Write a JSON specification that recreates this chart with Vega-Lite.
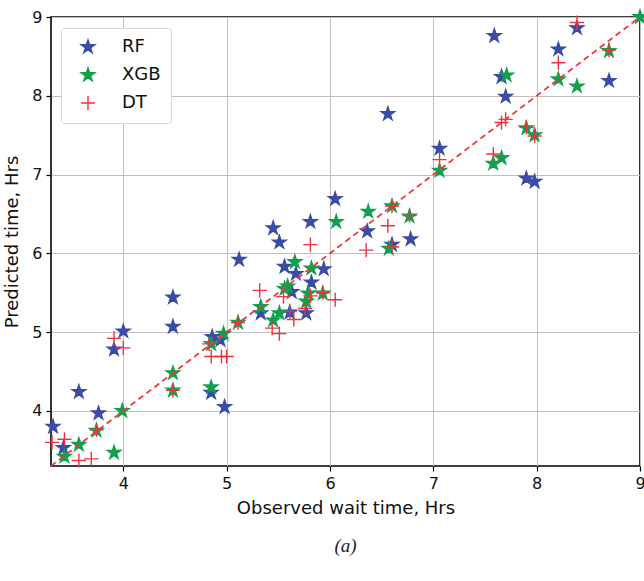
{
  "$schema": "https://vega.github.io/schema/vega-lite/v6.json",
  "width": 589,
  "height": 449,
  "autosize": "none",
  "padding": {"left": 51, "top": 17, "right": 4, "bottom": 115},
  "background": "white",
  "config": {
    "view": {"stroke": "black", "strokeWidth": 1.6},
    "font": "DejaVu Sans",
    "axis": {
      "domain": false,
      "grid": true,
      "gridColor": "#c4bebe",
      "gridWidth": 1,
      "tickColor": "black",
      "tickSize": 5,
      "tickWidth": 1.2,
      "labelFont": "DejaVu Sans",
      "labelFontSize": 16,
      "labelColor": "#111",
      "labelPadding": 4,
      "labelFlush": false,
      "format": "d",
      "titleFont": "DejaVu Sans",
      "titleFontSize": 18,
      "titleFontWeight": "normal",
      "titleColor": "#111"
    }
  },
  "title": {
    "text": "(a)",
    "orient": "bottom",
    "anchor": "middle",
    "font": "Liberation Serif",
    "fontStyle": "italic",
    "fontWeight": "normal",
    "fontSize": 19,
    "color": "#222",
    "offset": 20
  },
  "datasets": {
    "pts": [
      {"model": "RF", "observed": 3.32, "predicted": 3.80},
      {"model": "RF", "observed": 3.42, "predicted": 3.53},
      {"model": "RF", "observed": 3.57, "predicted": 4.24},
      {"model": "RF", "observed": 3.76, "predicted": 3.97},
      {"model": "RF", "observed": 3.91, "predicted": 4.78},
      {"model": "RF", "observed": 4.00, "predicted": 5.01},
      {"model": "RF", "observed": 4.48, "predicted": 5.44},
      {"model": "RF", "observed": 4.48, "predicted": 5.07},
      {"model": "RF", "observed": 4.85, "predicted": 4.23},
      {"model": "RF", "observed": 4.86, "predicted": 4.94},
      {"model": "RF", "observed": 4.94, "predicted": 4.90},
      {"model": "RF", "observed": 4.98, "predicted": 4.05},
      {"model": "RF", "observed": 5.12, "predicted": 5.92},
      {"model": "RF", "observed": 5.33, "predicted": 5.24},
      {"model": "RF", "observed": 5.45, "predicted": 6.32},
      {"model": "RF", "observed": 5.51, "predicted": 6.14},
      {"model": "RF", "observed": 5.56, "predicted": 5.83},
      {"model": "RF", "observed": 5.61, "predicted": 5.25},
      {"model": "RF", "observed": 5.63, "predicted": 5.51},
      {"model": "RF", "observed": 5.67, "predicted": 5.74},
      {"model": "RF", "observed": 5.77, "predicted": 5.24},
      {"model": "RF", "observed": 5.81, "predicted": 6.40},
      {"model": "RF", "observed": 5.82, "predicted": 5.63},
      {"model": "RF", "observed": 5.94, "predicted": 5.80},
      {"model": "RF", "observed": 6.05, "predicted": 6.69},
      {"model": "RF", "observed": 6.36, "predicted": 6.28},
      {"model": "RF", "observed": 6.56, "predicted": 7.77},
      {"model": "RF", "observed": 6.60, "predicted": 6.11},
      {"model": "RF", "observed": 6.78, "predicted": 6.18},
      {"model": "RF", "observed": 7.06, "predicted": 7.33},
      {"model": "RF", "observed": 7.59, "predicted": 8.76},
      {"model": "RF", "observed": 7.66, "predicted": 8.24},
      {"model": "RF", "observed": 7.70, "predicted": 7.99},
      {"model": "RF", "observed": 7.90, "predicted": 6.95},
      {"model": "RF", "observed": 7.98, "predicted": 6.91},
      {"model": "RF", "observed": 8.21, "predicted": 8.59},
      {"model": "RF", "observed": 8.39, "predicted": 8.86},
      {"model": "RF", "observed": 8.70, "predicted": 8.19},
      {"model": "XGB", "observed": 3.43, "predicted": 3.42},
      {"model": "XGB", "observed": 3.57, "predicted": 3.57},
      {"model": "XGB", "observed": 3.74, "predicted": 3.75},
      {"model": "XGB", "observed": 3.91, "predicted": 3.47},
      {"model": "XGB", "observed": 3.99, "predicted": 4.00},
      {"model": "XGB", "observed": 4.48, "predicted": 4.48},
      {"model": "XGB", "observed": 4.48, "predicted": 4.26},
      {"model": "XGB", "observed": 4.85, "predicted": 4.30},
      {"model": "XGB", "observed": 4.85, "predicted": 4.85},
      {"model": "XGB", "observed": 4.97, "predicted": 4.98},
      {"model": "XGB", "observed": 5.11, "predicted": 5.12},
      {"model": "XGB", "observed": 5.33, "predicted": 5.32},
      {"model": "XGB", "observed": 5.45, "predicted": 5.15},
      {"model": "XGB", "observed": 5.51, "predicted": 5.24},
      {"model": "XGB", "observed": 5.56, "predicted": 5.55},
      {"model": "XGB", "observed": 5.59, "predicted": 5.58},
      {"model": "XGB", "observed": 5.66, "predicted": 5.89},
      {"model": "XGB", "observed": 5.77, "predicted": 5.39},
      {"model": "XGB", "observed": 5.79, "predicted": 5.49},
      {"model": "XGB", "observed": 5.82, "predicted": 5.81},
      {"model": "XGB", "observed": 5.93, "predicted": 5.49},
      {"model": "XGB", "observed": 6.06, "predicted": 6.40},
      {"model": "XGB", "observed": 6.37, "predicted": 6.53},
      {"model": "XGB", "observed": 6.57, "predicted": 6.06},
      {"model": "XGB", "observed": 6.60, "predicted": 6.60},
      {"model": "XGB", "observed": 6.77, "predicted": 6.47},
      {"model": "XGB", "observed": 7.06, "predicted": 7.05},
      {"model": "XGB", "observed": 7.58, "predicted": 7.14},
      {"model": "XGB", "observed": 7.66, "predicted": 7.21},
      {"model": "XGB", "observed": 7.71, "predicted": 8.26},
      {"model": "XGB", "observed": 7.90, "predicted": 7.59},
      {"model": "XGB", "observed": 7.98, "predicted": 7.50},
      {"model": "XGB", "observed": 8.21, "predicted": 8.21},
      {"model": "XGB", "observed": 8.39, "predicted": 8.12},
      {"model": "XGB", "observed": 8.70, "predicted": 8.57},
      {"model": "XGB", "observed": 9.00, "predicted": 9.00},
      {"model": "DT", "observed": 3.31, "predicted": 3.60},
      {"model": "DT", "observed": 3.43, "predicted": 3.64},
      {"model": "DT", "observed": 3.57, "predicted": 3.37},
      {"model": "DT", "observed": 3.69, "predicted": 3.39},
      {"model": "DT", "observed": 3.74, "predicted": 3.76},
      {"model": "DT", "observed": 3.91, "predicted": 4.92},
      {"model": "DT", "observed": 4.00, "predicted": 4.80},
      {"model": "DT", "observed": 4.48, "predicted": 4.26},
      {"model": "DT", "observed": 4.83, "predicted": 4.85},
      {"model": "DT", "observed": 4.85, "predicted": 4.69},
      {"model": "DT", "observed": 4.95, "predicted": 4.69},
      {"model": "DT", "observed": 5.00, "predicted": 4.69},
      {"model": "DT", "observed": 5.11, "predicted": 5.12},
      {"model": "DT", "observed": 5.32, "predicted": 5.53},
      {"model": "DT", "observed": 5.44, "predicted": 5.05},
      {"model": "DT", "observed": 5.51, "predicted": 4.98},
      {"model": "DT", "observed": 5.55, "predicted": 5.45},
      {"model": "DT", "observed": 5.61, "predicted": 5.26},
      {"model": "DT", "observed": 5.65, "predicted": 5.16},
      {"model": "DT", "observed": 5.76, "predicted": 5.30},
      {"model": "DT", "observed": 5.81, "predicted": 5.46},
      {"model": "DT", "observed": 5.81, "predicted": 6.11},
      {"model": "DT", "observed": 5.93, "predicted": 5.50},
      {"model": "DT", "observed": 6.05, "predicted": 5.41},
      {"model": "DT", "observed": 6.35, "predicted": 6.04},
      {"model": "DT", "observed": 6.56, "predicted": 6.35},
      {"model": "DT", "observed": 6.60, "predicted": 6.08},
      {"model": "DT", "observed": 6.60, "predicted": 6.60},
      {"model": "DT", "observed": 6.77, "predicted": 6.48},
      {"model": "DT", "observed": 7.06, "predicted": 7.19},
      {"model": "DT", "observed": 7.58, "predicted": 7.26},
      {"model": "DT", "observed": 7.66, "predicted": 7.66},
      {"model": "DT", "observed": 7.70, "predicted": 7.70},
      {"model": "DT", "observed": 7.90, "predicted": 7.60},
      {"model": "DT", "observed": 7.98, "predicted": 7.49},
      {"model": "DT", "observed": 8.21, "predicted": 8.42},
      {"model": "DT", "observed": 8.39, "predicted": 8.93},
      {"model": "DT", "observed": 8.70, "predicted": 8.58}
    ],
    "diag": [
      {"observed": 3.3, "predicted": 3.3},
      {"observed": 9.0, "predicted": 9.0}
    ]
  },
  "layer": [
    {
      "data": {"name": "pts"},
      "mark": {"type": "point", "filled": true, "size": 200, "strokeWidth": 1.4, "opacity": 1},
      "encoding": {
        "x": {
          "field": "observed", "type": "quantitative",
          "scale": {"domain": [3.3, 9], "nice": false, "zero": false},
          "axis": {"values": [4, 5, 6, 7, 8, 9], "title": "Observed wait time, Hrs", "titlePadding": 8}
        },
        "y": {
          "field": "predicted", "type": "quantitative",
          "scale": {"domain": [3.3, 9], "nice": false, "zero": false},
          "axis": {"values": [4, 5, 6, 7, 8, 9], "title": "Predicted time, Hrs", "titlePadding": 10}
        },
        "color": {
          "field": "model", "type": "nominal", "title": null,
          "scale": {"domain": ["RF", "XGB", "DT"], "range": ["#3a4ca6", "#13a04e", "#f0323c"]},
          "legend": {
            "orient": "none", "legendX": 10, "legendY": 11,
            "padding": 10, "strokeColor": "#d6d6d6", "fillColor": "white", "cornerRadius": 3,
            "labelFontSize": 18, "labelFont": "DejaVu Sans", "labelColor": "#111",
            "symbolSize": 200, "symbolStrokeWidth": 1.4, "rowPadding": 9,
            "labelOffset": 25, "symbolOffset": 8
          }
        },
        "shape": {
          "field": "model", "type": "nominal", "title": null,
          "scale": {"domain": ["RF", "XGB", "DT"], "range": [
            "M0,-1L0.2245,-0.309L0.951,-0.309L0.363,0.118L0.588,0.809L0,0.382L-0.588,0.809L-0.363,0.118L-0.951,-0.309L-0.2245,-0.309Z",
            "M0,-1L0.2245,-0.309L0.951,-0.309L0.363,0.118L0.588,0.809L0,0.382L-0.588,0.809L-0.363,0.118L-0.951,-0.309L-0.2245,-0.309Z",
            "M-1,0L1,0M0,-1L0,1"
          ]}
        },
        "stroke": {
          "field": "model", "type": "nominal", "title": null,
          "scale": {"domain": ["RF", "XGB", "DT"], "range": ["#3a4ca6", "#13a04e", "#f0323c"]}
        }
      }
    },
    {
      "data": {"name": "diag"},
      "mark": {"type": "line", "color": "#ee3a3e", "strokeDash": [6, 4], "strokeWidth": 1.8},
      "encoding": {
        "x": {"field": "observed", "type": "quantitative"},
        "y": {"field": "predicted", "type": "quantitative"}
      }
    }
  ]
}
